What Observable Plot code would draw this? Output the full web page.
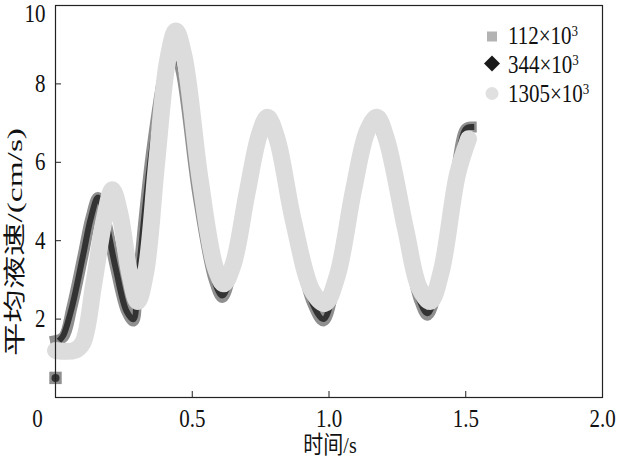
<!DOCTYPE html>
<html>
<head>
<meta charset="utf-8">
<script src="https://cdn.jsdelivr.net/npm/d3@7"></script>
<script src="https://cdn.jsdelivr.net/npm/@observablehq/plot@0.6"></script>
<style>
  html, body { margin: 0; padding: 0; background: #fff; }
  #wrap { position: relative; width: 618px; height: 457px; }
  #legend { position: absolute; left: 484px; top: 22px; font-family: "Liberation Serif", "Times New Roman", serif; font-size: 21px; color: #111; }
  #legend .row { position: relative; height: 29px; line-height: 29px; padding-left: 24px; white-space: nowrap; }
  #legend .txt { display: inline-block; transform: scaleY(1.2); transform-origin: 50% 55%; }
  #legend sup { font-size: 13px; vertical-align: 7px; line-height: 0; }
  #legend .mk { position: absolute; left: 8px; top: 14.5px; transform: translate(-50%, -50%); }
</style>
</head>
<body>
<div id="wrap">
  <div id="chart"></div>
  <div id="legend"></div>
</div>
<script>
// Series names (×10^3)
const seriesNames = ["112", "344", "1305"];
const seriesColors = ["#8f8f8f", "#333333", "#dcdcdc"];

// time (s) and mean velocity (cm/s)
const t112 = [0.00, 0.03, 0.06, 0.10, 0.13, 0.155, 0.18, 0.22, 0.26, 0.285, 0.30, 0.35, 0.40, 0.43, 0.46, 0.52, 0.58, 0.61, 0.64, 0.70, 0.745, 0.775, 0.81, 0.87, 0.94, 0.98, 1.02, 1.09, 1.14, 1.17, 1.21, 1.28, 1.33, 1.36, 1.40, 1.46, 1.50, 1.52];
const v112 = [1.45, 1.55, 2.3, 3.6, 4.6, 5.1, 4.6, 3.3, 2.2, 1.95, 2.9, 6.2, 8.4, 9.0, 8.3, 5.2, 3.0, 2.55, 3.1, 5.1, 6.6, 7.0, 6.4, 4.3, 2.4, 1.95, 2.8, 5.1, 6.7, 7.0, 6.4, 4.1, 2.5, 2.1, 2.9, 5.5, 6.85, 6.9];

const t344 = [0.02, 0.03, 0.06, 0.10, 0.13, 0.155, 0.18, 0.22, 0.26, 0.285, 0.30, 0.35, 0.40, 0.43, 0.46, 0.52, 0.58, 0.61, 0.64, 0.70, 0.745, 0.775, 0.81, 0.87, 0.94, 0.98, 1.02, 1.09, 1.14, 1.17, 1.21, 1.28, 1.33, 1.36, 1.40, 1.46, 1.50, 1.52];
const v344 = [1.5, 1.6, 2.3, 3.6, 4.6, 5.1, 4.6, 3.3, 2.2, 2.0, 2.9, 6.2, 8.4, 9.0, 8.3, 5.2, 3.0, 2.6, 3.1, 5.1, 6.6, 7.0, 6.4, 4.3, 2.4, 2.0, 2.8, 5.1, 6.7, 7.0, 6.4, 4.1, 2.5, 2.15, 2.9, 5.5, 6.85, 6.9];

const t1305 = [0.00, 0.07, 0.10, 0.14, 0.18, 0.208, 0.235, 0.27, 0.30, 0.33, 0.37, 0.41, 0.44, 0.47, 0.53, 0.585, 0.615, 0.65, 0.70, 0.745, 0.775, 0.81, 0.87, 0.94, 0.985, 1.03, 1.09, 1.14, 1.175, 1.21, 1.28, 1.33, 1.37, 1.41, 1.47, 1.51];
const v1305 = [1.2, 1.2, 1.4, 2.9, 4.6, 5.3, 4.7, 3.2, 2.45, 3.2, 6.0, 8.6, 9.35, 8.7, 5.5, 3.3, 2.9, 3.4, 5.2, 6.7, 7.15, 6.6, 4.5, 2.7, 2.4, 3.1, 5.3, 6.8, 7.15, 6.6, 4.3, 2.8, 2.45, 3.2, 5.7, 6.6];

// isolated first samples at t = 0
const startT = [0, 0];
const startV = [0.5, 0.5];

const xTicks = [0.5, 1.0, 1.5, 2.0];
const xTickLabels = ["0.5", "1.0", "1.5", "2.0"];
const yTicks = [2, 4, 6, 8];
const yTopTick = [10];

const toRows = (ts, vs) => ts.map((t, i) => ({t, v: vs[i]}));
const s112 = toRows(t112, v112);
const s344 = toRows(t344, v344);
const s1305 = toRows(t1305, v1305);
const starts = toRows(startT, startV);

const chart = Plot.plot({
  width: 618,
  height: 457,
  marginLeft: 55,
  marginRight: 16,
  marginTop: 5,
  marginBottom: 60,
  style: {fontFamily: "'Liberation Serif', 'Times New Roman', serif", fontSize: "21px", color: "#111", background: "#fff"},
  x: {domain: [0, 2], ticks: xTicks},
  y: {domain: [0, 10], ticks: yTicks},
  marks: [
    Plot.line(s112, {x: "t", y: "v", stroke: seriesColors[0], strokeWidth: 11, curve: "catmull-rom", strokeLinecap: "square", strokeLinejoin: "round"}),
    Plot.line(s344, {x: "t", y: "v", stroke: seriesColors[1], strokeWidth: 6, curve: "catmull-rom", strokeLinecap: "square", strokeLinejoin: "round"}),
    Plot.line(s1305, {x: "t", y: "v", stroke: seriesColors[2], strokeWidth: 17, curve: "catmull-rom", strokeLinecap: "round", strokeLinejoin: "round"}),
    Plot.dot(starts.slice(0, 1), {x: "t", y: "v", symbol: "square", r: 7, fill: seriesColors[0]}),
    Plot.dot(starts.slice(1), {x: "t", y: "v", symbol: "circle", r: 4, fill: seriesColors[1]}),
    Plot.frame({stroke: "#222", strokeWidth: 1.2}),
    Plot.axisY({ticks: yTicks, tickSize: -6, tickPadding: 16, label: null, stroke: "#222"}),
    Plot.axisY({ticks: yTopTick, tickSize: 0, tickPadding: 10, dy: 8, label: null}),
    Plot.axisX({ticks: xTicks, tickFormat: (d, i) => xTickLabels[i], tickSize: -6, tickPadding: 18, label: null, stroke: "#222"}),
    Plot.axisX({ticks: [0], tickFormat: () => "0", tickSize: 0, tickPadding: 12, dx: -18, label: null})
  ]
});
document.getElementById("chart").appendChild(chart);

// the source figure's lettering is slightly taller than wide
d3.select(chart).selectAll("g[aria-label$='tick label'] text").each(function() {
  const tr = this.getAttribute("transform") || "";
  this.setAttribute("transform", tr + " scale(1,1.2)");
});

// axis titles
const svg = d3.select(chart);
svg.append("text")
  .attr("transform", "translate(330,453) scale(1,1.2)")
  .attr("text-anchor", "middle")
  .style("font-family", "'Liberation Serif', 'Noto Sans CJK SC', serif")
  .style("font-size", "20px").attr("fill", "#111")
  .text("时间/s");
svg.append("text")
  .attr("transform", "translate(22,242) rotate(-90)")
  .attr("text-anchor", "middle")
  .attr("textLength", 228)
  .attr("lengthAdjust", "spacingAndGlyphs")
  .style("font-family", "'Liberation Serif', 'Noto Sans CJK SC', serif")
  .style("font-size", "22px").attr("fill", "#111")
  .text("平均液速/(cm/s)");

// legend
const markers = [
  '<svg width="14" height="14"><rect x="2" y="2" width="10" height="10" fill="#b3b3b3"/></svg>',
  '<svg width="18" height="18"><path d="M9 1 L17 9 L9 17 L1 9 Z" fill="#1a1a1a"/></svg>',
  '<svg width="16" height="16"><circle cx="8" cy="8" r="6.5" fill="#e0e0e0"/></svg>'
];
const legend = document.getElementById("legend");
seriesNames.forEach((name, i) => {
  const row = document.createElement("div");
  row.className = "row";
  row.innerHTML = `<span class="mk">${markers[i]}</span><span class="txt">${name}×10<sup>3</sup></span>`;
  legend.appendChild(row);
});
</script>
</body>
</html>
